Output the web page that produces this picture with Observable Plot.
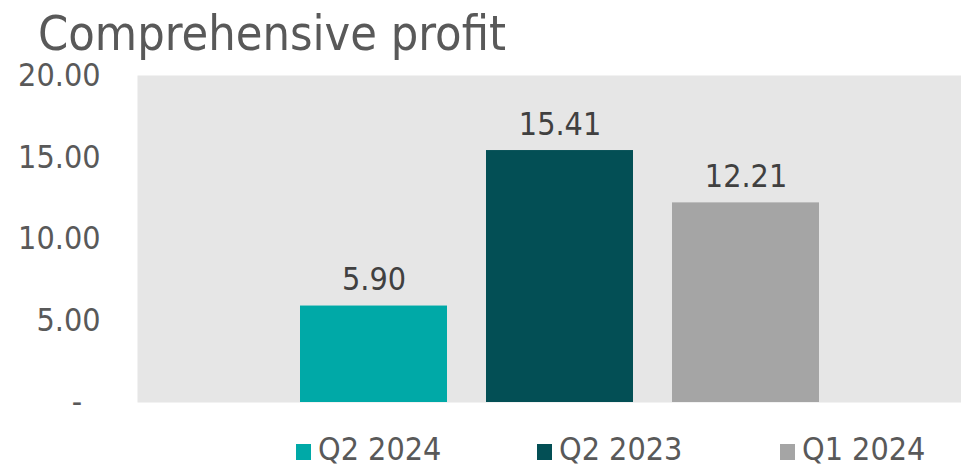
<!DOCTYPE html>
<html>
<head>
<meta charset="utf-8">
<script src="https://cdn.jsdelivr.net/npm/d3@7"></script>
<script src="https://cdn.jsdelivr.net/npm/@observablehq/plot@0.6"></script>
<style>
  html, body { margin: 0; padding: 0; background: #fff; }
  #wrap { position: relative; width: 961px; height: 469px; overflow: hidden; font-family: "DejaVu Sans Condensed", "DejaVu Sans", sans-serif; color: #595959; }
  #title { position: absolute; left: 38px; top: 11px; font-size: 48px; line-height: 44px; white-space: nowrap; transform-origin: 0 0; color: #595959; }
  #chart { position: absolute; left: 0; top: 60px; }
  .leg { position: absolute; top: 433px; font-size: 32px; line-height: 32px; white-space: nowrap; color: #595959; }
  .sw { position: absolute; width: 15px; height: 16px; }
</style>
</head>
<body>
<div id="wrap">
  <div id="title">Comprehensive profit</div>
  <div id="chart"></div>
  <div id="legend"></div>
</div>
<script>
const categories = ["Q2 2024", "Q2 2023", "Q1 2024"];
const values = [5.90, 15.41, 12.21];
const colors = ["#00a9a7", "#034f55", "#a5a5a5"];
const yTicks = [0, 5, 10, 15, 20];
const legendSwatchX = [296, 537, 780];

const data = categories.map((c, i) => ({label: c, value: values[i]}));

const chart = Plot.plot({
  width: 961,
  height: 360,
  marginTop: 15,
  marginBottom: 18,
  marginLeft: 137,
  marginRight: 0,
  style: {fontFamily: "DejaVu Sans Condensed, DejaVu Sans, sans-serif", fontSize: "32px", color: "#595959", background: "transparent", overflow: "visible"},
  x: {domain: categories, range: [279.25, 838.75], paddingInner: 0.212, paddingOuter: 0.106, axis: null},
  y: {domain: [0, 20], ticks: yTicks, tickSize: 0, tickPadding: 37, label: null,
      tickFormat: d => d === 0 ? "-\u00a0\u00a0" : d.toFixed(2)},
  color: {domain: categories, range: colors},
  marks: [
    Plot.frame({fill: "#e6e6e6", stroke: "none"}),
    Plot.barY(data, {x: "label", y: "value", fill: "label"}),
    Plot.text(data, {x: "label", y: "value", text: d => d.value.toFixed(2), dy: -26, fill: "#404040", fontSize: 32})
  ]
});
document.getElementById("chart").appendChild(chart);

const legend = document.getElementById("legend");
categories.forEach((c, i) => {
  const sw = document.createElement("div");
  sw.className = "sw";
  sw.style.left = legendSwatchX[i] + "px";
  sw.style.top = "444px";
  sw.style.background = colors[i];
  legend.appendChild(sw);
  const t = document.createElement("div");
  t.className = "leg";
  t.style.left = (legendSwatchX[i] + 22) + "px";
  t.textContent = c;
  legend.appendChild(t);
});

// fit title to the reference width
const title = document.getElementById("title");
const w = title.getBoundingClientRect().width;
title.style.transform = `scale(${468 / w}, 1)`;
</script>
</body>
</html>
